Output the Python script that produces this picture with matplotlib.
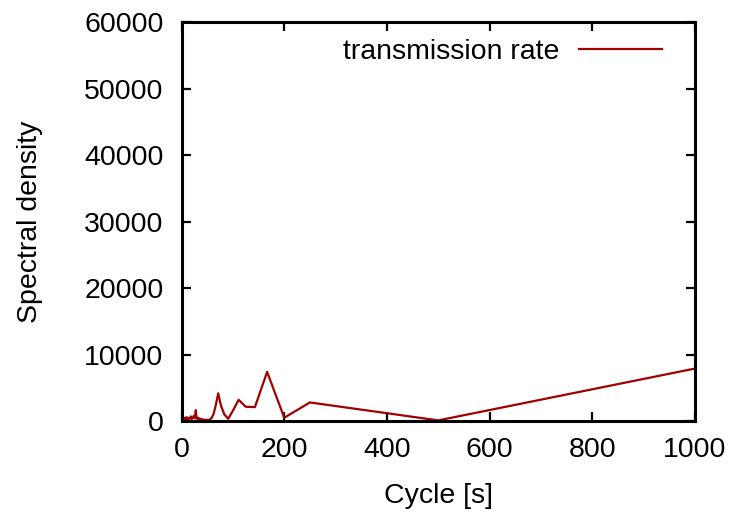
import matplotlib
matplotlib.use('Agg')
import matplotlib.pyplot as plt

plt.rcParams['font.family'] = ['Liberation Sans', 'DejaVu Sans']

# period of each spectral component [s] and its density
cycle = [3.0, 5.0, 6.0, 8.0, 10.0, 12.0, 14.0, 16.0, 18.0, 20.0, 22.0, 24.0, 26.0,
         27.8, 29.0, 31.0, 33.0, 35.0, 38.0, 40.0, 43.0, 45.5, 47.6, 50.0,
         52.6, 55.6, 58.8, 62.5, 66.7, 71.4, 76.9, 83.3, 90.9, 100.0, 111.1,
         125.0, 142.9, 166.7, 200.0, 250.0, 333.3, 500.0, 1000.0]
density = [400, 200, 500, 300, 600, 250, 450, 350, 700, 300, 500, 800, 400,
           1650, 600, 300, 500, 200, 350, 150, 250, 100, 150, 200,
           150, 250, 500, 1100, 2400, 4170, 2300, 1000, 350, 1550, 3200,
           2150, 2100, 7400, 500, 2800, 1900, 100, 7900]

x_ticks = [0, 200, 400, 600, 800, 1000]
y_ticks = [0, 10000, 20000, 30000, 40000, 50000, 60000]

fs = 20.5

fig = plt.figure(figsize=(7.35, 5.16), dpi=100)
ax = fig.add_axes([0.247, 0.184, 0.6986, 0.773])

ax.plot(cycle, density, color='#a00000', linewidth=1.6, label='transmission rate')

ax.set_xlim(0, 1000)
ax.set_ylim(0, 60000)
ax.set_xticks(x_ticks)
ax.set_yticks(y_ticks)
ax.tick_params(direction='in', length=6.5, width=1.6, top=True, right=True,
               labelsize=fs)
ax.tick_params(axis='x', pad=11.5)
ax.tick_params(axis='y', pad=13)
for sp in ax.spines.values():
    sp.set_linewidth(2.2)

ax.set_xlabel('Cycle [s]', fontsize=fs)
ax.set_ylabel('Spectral density', fontsize=fs)
ax.yaxis.set_label_coords(-0.27, 0.5)
ax.xaxis.set_label_coords(0.5, -0.155)

ax.legend(loc='upper right', bbox_to_anchor=(0.9357, 0.958), frameon=False,
          markerfirst=False, handlelength=2.9, handletextpad=0.7,
          borderpad=0, borderaxespad=0, fontsize=fs)

fig.savefig('out.png', dpi=100)
